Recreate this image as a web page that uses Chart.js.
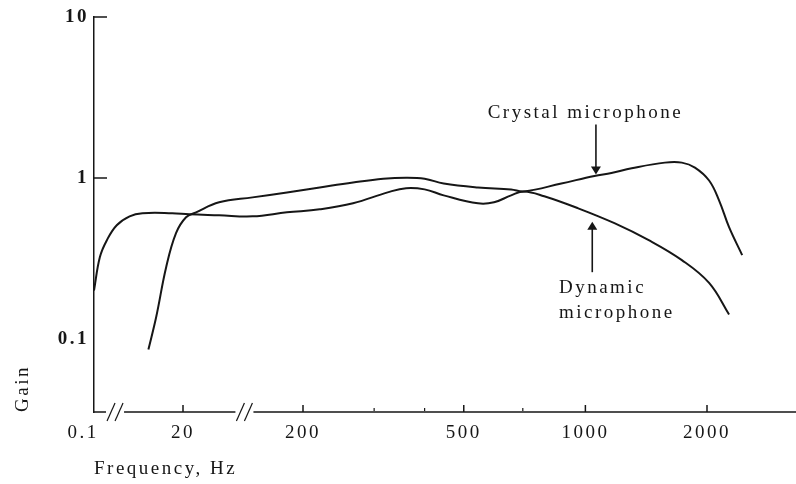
<!DOCTYPE html>
<html>
<head>
<meta charset="utf-8">
<script src="https://cdn.jsdelivr.net/npm/chart.js@4"></script>
<style>
  html, body { margin: 0; padding: 0; background: #fff; }
  #wrap { width: 796px; height: 484px; }
</style>
</head>
<body>
<div id="wrap"><canvas id="gainChart" width="796" height="484"></canvas></div>
<script>
// Gain vs frequency for a dynamic and a crystal microphone
const dynamicFreq = [0.1, 0.142, 0.215, 0.387, 0.833, 1.79, 10.5, 22.5, 40, 76, 147, 220, 266, 324, 360, 400, 446, 542, 594, 655, 705, 791, 960, 1180, 1435, 1733, 2024, 2268];
const dynamicGain = [0.2, 0.323, 0.411, 0.509, 0.578, 0.604, 0.604, 0.595, 0.587, 0.578, 0.612, 0.639, 0.696, 0.814, 0.865, 0.85, 0.78, 0.696, 0.706, 0.78, 0.825, 0.77, 0.648, 0.524, 0.411, 0.309, 0.223, 0.142];

const crystalFreq = [2.55, 4.08, 7.36, 13.2, 21.2, 25.7, 40, 76, 147, 220, 266, 316, 360, 400, 446, 542, 655, 705, 872, 1053, 1160, 1302, 1573, 1733, 1867, 2024, 2142, 2268, 2444];
const crystalGain = [0.086, 0.138, 0.28, 0.454, 0.57, 0.612, 0.706, 0.758, 0.814, 0.874, 0.938, 0.99, 1.005, 0.99, 0.925, 0.874, 0.849, 0.825, 0.925, 1.03, 1.075, 1.15, 1.246, 1.246, 1.161, 0.965, 0.727, 0.495, 0.332];

const freqTicks = [0.1, 20, 200, 500, 1000, 2000];
const freqTickLabels = ['0.1', '20', '200', '500', '1000', '2000'];
const minorFreqTicks = [300, 400, 700];
const gainTicks = [0.1, 1, 10];
const gainTickLabels = ['0.1', '1', '10'];
const axisBreaks = [0.35, 65];

const INK = '#161616';
const SERIF = '"Liberation Serif", "Times New Roman", serif';
const SPACING = '2.5px';

// frequency axis is broken twice: 0.1-20, 20-200, then plain log from 200 up
function axisPos(f) {
  if (f <= 20) return 89 * Math.log10(f / 0.1) / Math.log10(200);
  if (f <= 200) return 89 + 120 * Math.log10(f / 20);
  return 209 + 404 * Math.log10(f / 200);
}

function toPoints(freqs, gains) {
  return freqs.map((f, i) => ({ x: axisPos(f), y: gains[i] }));
}

// labels on the curves: text position and arrow, in (Hz, gain)
const callouts = [
  { lines: ['Crystal microphone'], textAt: [1000, 2.53], align: 'center', from: [1062, 2.15], to: [1062, 1.05] },
  { lines: ['Dynamic', 'microphone'], textAt: [860, 0.207], align: 'left', from: [1040, 0.26], to: [1040, 0.535] }
];

// wide, typeset-looking lettering everywhere
const letterSpacing = {
  id: 'letterSpacing',
  beforeLayout(chart) { chart.ctx.letterSpacing = SPACING; },
  beforeDraw(chart) { chart.ctx.letterSpacing = SPACING; }
};

const axisMarks = {
  id: 'axisMarks',
  afterDraw(chart) {
    const { ctx, chartArea: a, scales: { x, y } } = chart;
    ctx.save();
    ctx.strokeStyle = INK;
    ctx.lineWidth = 1.5;

    // x axis with gaps where it is broken
    const gaps = axisBreaks.map(f => x.getPixelForValue(axisPos(f)));
    let start = a.left;
    ctx.beginPath();
    gaps.forEach(g => {
      ctx.moveTo(start, a.bottom);
      ctx.lineTo(g - 9, a.bottom);
      start = g + 9;
    });
    ctx.moveTo(start, a.bottom);
    ctx.lineTo(a.right, a.bottom);
    ctx.stroke();

    ctx.lineWidth = 1.2;
    gaps.forEach(g => {
      [-4, 4].forEach(dx => {
        ctx.beginPath();
        ctx.moveTo(g + dx - 4, a.bottom + 9);
        ctx.lineTo(g + dx + 4, a.bottom - 9);
        ctx.stroke();
      });
    });

    // ticks point into the plot
    ctx.lineWidth = 1.5;
    freqTicks.slice(1).forEach(f => {
      const px = x.getPixelForValue(axisPos(f));
      ctx.beginPath();
      ctx.moveTo(px, a.bottom);
      ctx.lineTo(px, a.bottom - 7);
      ctx.stroke();
    });
    ctx.lineWidth = 1.2;
    minorFreqTicks.forEach(f => {
      const px = x.getPixelForValue(axisPos(f));
      ctx.beginPath();
      ctx.moveTo(px, a.bottom - 1);
      ctx.lineTo(px, a.bottom - 4);
      ctx.stroke();
    });
    ctx.lineWidth = 1.5;
    gainTicks.slice(1).forEach(v => {
      const py = y.getPixelForValue(v);
      ctx.beginPath();
      ctx.moveTo(a.left, py);
      ctx.lineTo(a.left + 13, py);
      ctx.stroke();
    });
    ctx.restore();
  }
};

const curveLabels = {
  id: 'curveLabels',
  afterDraw(chart) {
    const { ctx, scales: { x, y } } = chart;
    ctx.save();
    ctx.fillStyle = INK;
    ctx.strokeStyle = INK;
    ctx.font = '19px ' + SERIF;
    ctx.letterSpacing = SPACING;
    ctx.textBaseline = 'middle';
    callouts.forEach(c => {
      const tx = x.getPixelForValue(axisPos(c.textAt[0]));
      const ty = y.getPixelForValue(c.textAt[1]);
      ctx.textAlign = c.align;
      c.lines.forEach((line, i) => ctx.fillText(line, tx, ty + i * 25));

      const ax = x.getPixelForValue(axisPos(c.from[0]));
      const y0 = y.getPixelForValue(c.from[1]);
      const y1 = y.getPixelForValue(c.to[1]);
      const dir = Math.sign(y1 - y0);
      ctx.lineWidth = 1.6;
      ctx.beginPath();
      ctx.moveTo(ax, y0);
      ctx.lineTo(ax, y1 - dir * 7);
      ctx.stroke();
      ctx.beginPath();
      ctx.moveTo(ax, y1);
      ctx.lineTo(ax - 5, y1 - dir * 8);
      ctx.lineTo(ax + 5, y1 - dir * 8);
      ctx.closePath();
      ctx.fill();
    });
    ctx.restore();
  }
};

new Chart(document.getElementById('gainChart'), {
  type: 'line',
  data: {
    datasets: [
      { label: 'Crystal microphone', data: toPoints(crystalFreq, crystalGain) },
      { label: 'Dynamic microphone', data: toPoints(dynamicFreq, dynamicGain) }
    ]
  },
  options: {
    responsive: false,
    animation: false,
    devicePixelRatio: 1,
    layout: { padding: { top: 17, right: 0, bottom: 0, left: 0 } },
    elements: {
      line: { borderColor: INK, borderWidth: 2, tension: 0.4, fill: false },
      point: { radius: 0 }
    },
    plugins: { legend: { display: false }, tooltip: { enabled: false } },
    scales: {
      x: {
        type: 'linear',
        min: 0,
        max: 702,
        afterFit(s) { s.height = 72; },
        afterBuildTicks(s) { s.ticks = freqTicks.map(f => ({ value: axisPos(f) })); },
        ticks: {
          // the origin label sits left of the corner
          callback: (v, i) => (i === 0 ? freqTickLabels[i] + '   ' : freqTickLabels[i]),
          autoSkip: false,
          maxRotation: 0,
          padding: 10,
          color: INK,
          font: { family: SERIF, size: 19 }
        },
        grid: { display: true, drawOnChartArea: false, drawTicks: false },
        border: { display: false },
        title: {
          display: true,
          text: 'Frequency, Hz',
          align: 'start',
          color: INK,
          font: { family: SERIF, size: 19 },
          padding: { top: 0, bottom: 4 }
        }
      },
      y: {
        type: 'logarithmic',
        min: 0.0352,
        max: 10,
        afterFit(s) { s.width = 94; },
        afterBuildTicks(s) { s.ticks = gainTicks.map(v => ({ value: v })); },
        ticks: {
          callback: (v, i) => gainTickLabels[i],
          autoSkip: false,
          padding: 5,
          color: INK,
          font: { family: SERIF, size: 19, weight: 'bold' }
        },
        grid: { display: true, drawOnChartArea: false, drawTicks: false },
        border: { display: true, color: INK, width: 1.5 },
        title: {
          display: true,
          text: 'Gain',
          align: 'start',
          color: INK,
          font: { family: SERIF, size: 19 },
          padding: { top: 12, bottom: 0 }
        }
      }
    }
  },
  plugins: [letterSpacing, axisMarks, curveLabels]
});
</script>
</body>
</html>
